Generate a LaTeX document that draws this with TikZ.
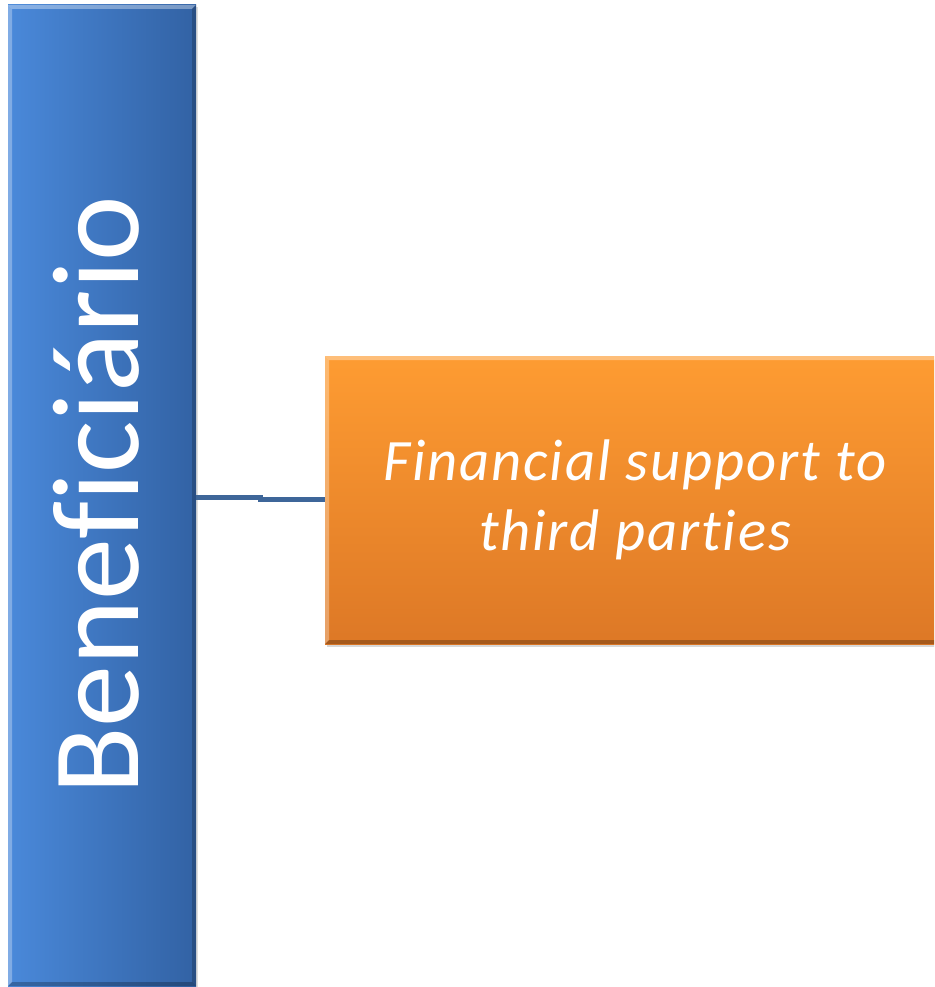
\documentclass[tikz,border=0pt]{standalone}
\usepackage{fontspec}
\setmainfont{Carlito}[Ligatures=NoCommon]
\newfontfamily\taskfont{Carlito}[Ligatures=NoCommon, LetterSpace=3.2]
\usetikzlibrary{positioning, calc, shadows}
\definecolor{barleft}{RGB}{74, 137, 218}
\definecolor{barright}{RGB}{50, 98, 164}
\definecolor{boxtop}{RGB}{254, 156, 50}
\definecolor{boxbottom}{RGB}{221, 120, 38}
\definecolor{linkcolor}{RGB}{62, 102, 153}

\begin{document}
\begin{tikzpicture}[x=0.75pt, y=-0.75pt,
    bevel/.style={path picture={
        \fill[white, opacity=0.35] (path picture bounding box.north west) -- (path picture bounding box.north east)
            -- ([shift={(-3pt,-3pt)}]path picture bounding box.north east) -- ([shift={(3pt,-3pt)}]path picture bounding box.north west) -- cycle;
        \fill[white, opacity=0.3] (path picture bounding box.north west) -- (path picture bounding box.south west)
            -- ([shift={(3pt,3pt)}]path picture bounding box.south west) -- ([shift={(3pt,-3pt)}]path picture bounding box.north west) -- cycle;
        \fill[black, opacity=0.25] (path picture bounding box.south west) -- (path picture bounding box.south east)
            -- ([shift={(-3pt,3pt)}]path picture bounding box.south east) -- ([shift={(3pt,3pt)}]path picture bounding box.south west) -- cycle;
        \fill[black, opacity=0.2] (path picture bounding box.north east) -- (path picture bounding box.south east)
            -- ([shift={(-3pt,3pt)}]path picture bounding box.south east) -- ([shift={(-3pt,-3pt)}]path picture bounding box.north east) -- cycle;
    }},
    barbox/.style={rectangle, inner sep=0pt, minimum width=141pt, minimum height=735.75pt,
        left color=barleft, right color=barright, bevel,
        drop shadow={shadow xshift=1.5pt, shadow yshift=-1.5pt, opacity=0.25}},
    taskbox/.style={rectangle, inner sep=0pt, minimum width=465pt, minimum height=216pt,
        top color=boxtop, bottom color=boxbottom, bevel,
        drop shadow={shadow xshift=1.5pt, shadow yshift=-2pt, opacity=0.3},
        text=white, align=center, font=\taskfont\fontsize{44}{53}\selectfont\itshape},
    link/.style={draw=linkcolor, line width=3.75pt}
]
    \useasboundingbox (0,0) rectangle (934,987);
    \fill[white] (0,0) rectangle (934,987);
    \clip (0,0) rectangle (934,987);

    % Beneficiary column
    \node[barbox] (bar) at (102,495.5) {};
    \node[text=white, rotate=90, anchor=base, inner sep=0pt, font=\fontsize{93}{100}\selectfont]
        (barlabel) at ($(bar.center)+(36,0)$) {Beneficiário};

    % Task box
    \node[taskbox] (task) at (635,500) {Financial support to\\third parties};

    % Connector
    \draw[link] (bar.east |- 0,497) -- (260,497) -- (260,499) -- (task.west |- 0,499);
\end{tikzpicture}
\end{document}
